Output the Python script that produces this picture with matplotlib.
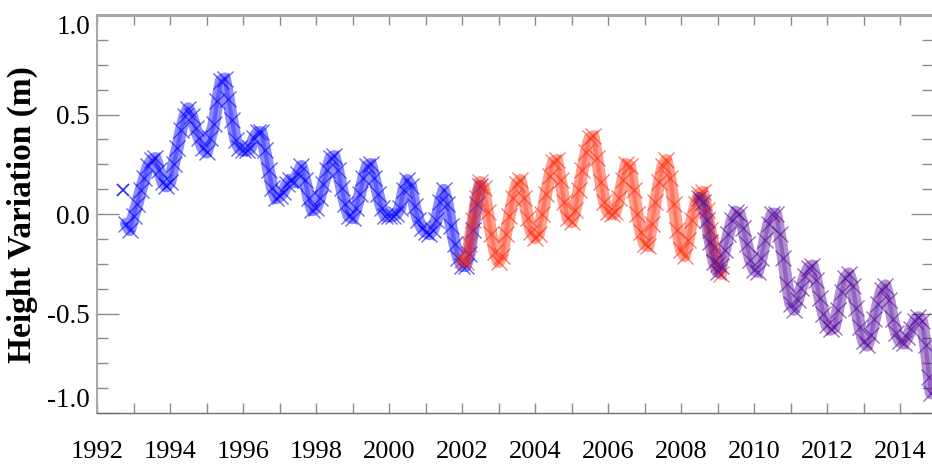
import numpy as np
import matplotlib
matplotlib.use("Agg")
import matplotlib.pyplot as plt
from matplotlib.ticker import MultipleLocator, FixedLocator

# ---------------- data ----------------
blue_t = [1992.80, 1992.90, 1993.00, 1993.10, 1993.20, 1993.30, 1993.40, 1993.50, 1993.60, 1993.70,
          1993.80, 1993.90, 1994.00, 1994.10, 1994.20, 1994.30, 1994.40, 1994.50, 1994.60, 1994.70,
          1994.80, 1994.90, 1995.00, 1995.10, 1995.20, 1995.30, 1995.40, 1995.50, 1995.60, 1995.70,
          1995.80, 1995.90, 1996.00, 1996.10, 1996.20, 1996.30, 1996.40, 1996.50, 1996.60, 1996.70,
          1996.80, 1996.90, 1997.00, 1997.10, 1997.20, 1997.30, 1997.40, 1997.50, 1997.60, 1997.70,
          1997.80, 1997.90, 1998.00, 1998.10, 1998.20, 1998.30, 1998.40, 1998.50, 1998.60, 1998.70,
          1998.80, 1998.90, 1999.00, 1999.10, 1999.20, 1999.30, 1999.40, 1999.50, 1999.60, 1999.70,
          1999.80, 1999.90, 2000.00, 2000.10, 2000.20, 2000.30, 2000.40, 2000.50, 2000.60, 2000.70,
          2000.80, 2000.90, 2001.00, 2001.10, 2001.20, 2001.30, 2001.40, 2001.50, 2001.60, 2001.70,
          2001.80, 2001.90, 2002.00, 2002.10, 2002.20, 2002.30, 2002.40, 2002.50]
blue_h = [-0.05, -0.08, -0.01, 0.05, 0.12, 0.18, 0.24, 0.27, 0.28, 0.22,
          0.16, 0.14, 0.16, 0.25, 0.33, 0.42, 0.49, 0.53, 0.49, 0.43,
          0.38, 0.33, 0.31, 0.38, 0.45, 0.57, 0.67, 0.68, 0.58, 0.47,
          0.37, 0.33, 0.32, 0.32, 0.33, 0.38, 0.41, 0.41, 0.32, 0.22,
          0.13, 0.08, 0.09, 0.11, 0.15, 0.17, 0.16, 0.20, 0.24, 0.17,
          0.08, 0.02, 0.03, 0.08, 0.15, 0.22, 0.28, 0.29, 0.22, 0.13,
          0.05, -0.01, -0.02, 0.03, 0.10, 0.18, 0.24, 0.25, 0.18, 0.10,
          0.03, -0.01, -0.01, -0.01, 0.00, 0.03, 0.12, 0.17, 0.14, 0.04,
          -0.03, -0.07, -0.09, -0.10, -0.08, -0.03, 0.06, 0.12, 0.05, -0.06,
          -0.15, -0.22, -0.26, -0.26, -0.20, -0.08, 0.05, 0.14]
blue_out_t = [1992.72]
blue_out_h = [0.12]

red_t = [2002.00, 2002.10, 2002.20, 2002.30, 2002.40, 2002.50, 2002.60, 2002.70, 2002.80, 2002.90,
         2003.00, 2003.10, 2003.20, 2003.30, 2003.40, 2003.50, 2003.60, 2003.70, 2003.80, 2003.90,
         2004.00, 2004.10, 2004.20, 2004.30, 2004.40, 2004.50, 2004.60, 2004.70, 2004.80, 2004.90,
         2005.00, 2005.10, 2005.20, 2005.30, 2005.40, 2005.50, 2005.60, 2005.70, 2005.80, 2005.90,
         2006.00, 2006.10, 2006.20, 2006.30, 2006.40, 2006.50, 2006.60, 2006.70, 2006.80, 2006.90,
         2007.00, 2007.10, 2007.20, 2007.30, 2007.40, 2007.50, 2007.60, 2007.70, 2007.80, 2007.90,
         2008.00, 2008.10, 2008.20, 2008.30, 2008.40, 2008.50, 2008.60, 2008.70, 2008.80, 2008.90,
         2009.00, 2009.10]
red_h = [-0.23, -0.24, -0.15, -0.03, 0.08, 0.16, 0.13, 0.01, -0.10, -0.19,
         -0.24, -0.21, -0.10, -0.01, 0.08, 0.15, 0.17, 0.08, -0.02, -0.09,
         -0.12, -0.10, 0.00, 0.10, 0.19, 0.26, 0.27, 0.17, 0.06, -0.02,
         -0.04, 0.02, 0.12, 0.22, 0.31, 0.38, 0.39, 0.28, 0.16, 0.06,
         0.01, 0.00, 0.01, 0.08, 0.17, 0.25, 0.24, 0.12, 0.00, -0.09,
         -0.15, -0.16, -0.05, 0.06, 0.16, 0.24, 0.27, 0.18, 0.05, -0.08,
         -0.18, -0.21, -0.13, -0.03, 0.05, 0.10, 0.11, 0.02, -0.08, -0.17,
         -0.25, -0.30]

purple_t = [2008.50, 2008.60, 2008.70, 2008.80, 2008.90, 2009.00, 2009.10, 2009.20, 2009.30, 2009.40,
            2009.50, 2009.60, 2009.70, 2009.80, 2009.90, 2010.00, 2010.10, 2010.20, 2010.30, 2010.40,
            2010.50, 2010.60, 2010.70, 2010.80, 2010.90, 2011.00, 2011.10, 2011.20, 2011.30, 2011.40,
            2011.50, 2011.60, 2011.70, 2011.80, 2011.90, 2012.00, 2012.10, 2012.20, 2012.30, 2012.40,
            2012.50, 2012.60, 2012.70, 2012.80, 2012.90, 2013.00, 2013.10, 2013.20, 2013.30, 2013.40,
            2013.50, 2013.60, 2013.70, 2013.80, 2013.90, 2014.00, 2014.10, 2014.20, 2014.30, 2014.40,
            2014.50, 2014.60, 2014.70, 2014.80, 2014.85]
purple_h = [0.08, 0.06, -0.03, -0.14, -0.24, -0.29, -0.26, -0.18, -0.10, -0.03,
            0.01, 0.00, -0.07, -0.15, -0.23, -0.28, -0.29, -0.22, -0.13, -0.05,
            0.00, 0.00, -0.10, -0.22, -0.35, -0.45, -0.48, -0.43, -0.37, -0.31,
            -0.27, -0.26, -0.33, -0.42, -0.50, -0.56, -0.58, -0.57, -0.48, -0.39,
            -0.32, -0.30, -0.36, -0.47, -0.57, -0.64, -0.66, -0.61, -0.53, -0.45,
            -0.38, -0.36, -0.43, -0.53, -0.60, -0.64, -0.65, -0.62, -0.58, -0.54,
            -0.52, -0.54, -0.66, -0.82, -0.90]

x_major = [1992, 1994, 1996, 1998, 2000, 2002, 2004, 2006, 2008, 2010, 2012, 2014]
x_labels = [str(v) for v in x_major]
y_major = [-1.0, -0.5, 0.0, 0.5, 1.0]
y_labels = ["-1.0", "-0.5", "0.0", "0.5", "1.0"]

BLUE = "#0000ff"
RED = "#ff2a0a"
PURPLE = "#560c9c"

# ---------------- figure ----------------
W, H = 932, 468
fig = plt.figure(figsize=(W / 100, H / 100), dpi=100)
ax = fig.add_axes([97 / W, (H - 413) / H, (933 - 97) / W, (413 - 15) / H])

for t, h, c in [(blue_t, blue_h, BLUE), (red_t, red_h, RED), (purple_t, purple_h, PURPLE)]:
    ax.plot(t, h, color=c, lw=9, alpha=0.45, solid_capstyle="round", solid_joinstyle="round")
    ax.plot(t, h, color=c, lw=3, alpha=0.35, solid_capstyle="round", solid_joinstyle="round")
    ax.plot(t, h, ls="none", marker="x", ms=11, mew=1.0, color=c, alpha=0.6)
ax.plot(blue_out_t, blue_out_h, ls="none", marker="x", ms=9, mew=1.3, color=BLUE, alpha=0.8)

ax.set_xlim(1992, 1992 + (933 - 97) / 36.5)
ax.set_ylim(-1.0, 1.0)

serif = ["Liberation Serif", "DejaVu Serif"]
ax.xaxis.set_major_locator(FixedLocator(x_major))
ax.xaxis.set_minor_locator(MultipleLocator(1))
ax.set_xticklabels(x_labels, fontsize=19, family=serif)
ax.yaxis.set_major_locator(FixedLocator(y_major))
ax.yaxis.set_minor_locator(MultipleLocator(0.125))
ax.set_yticklabels(y_labels, fontsize=19.5, family=serif)

tick_col = "#8c8c8c"
ax.tick_params(axis="x", which="both", direction="in", length=7, width=1.0, color=tick_col,
               top=True, bottom=True, pad=20, labelcolor="black")
ax.tick_params(axis="y", which="major", direction="in", length=16, width=1.0, color=tick_col,
               left=True, right=True, pad=5, labelcolor="black")
ax.tick_params(axis="y", which="minor", direction="in", length=8, width=1.0, color=tick_col,
               left=True, right=True)

for side, sp in ax.spines.items():
    sp.set_color("#a8a8a8")
    sp.set_linewidth(1.5)
ax.spines["top"].set_linewidth(2.2)
ax.spines["bottom"].set_color("#707070")
ax.spines["bottom"].set_linewidth(1.0)

yt = ax.yaxis.get_major_ticks()
yt[-1].label1.set_va("top")
yt[0].label1.set_va("bottom")

fig.text(22 / W, 1 - 215 / H, "Height Variation (m)", rotation=90, ha="center", va="center",
         fontsize=24, fontweight="bold", family=serif)

fig.savefig("out.png", dpi=100)
